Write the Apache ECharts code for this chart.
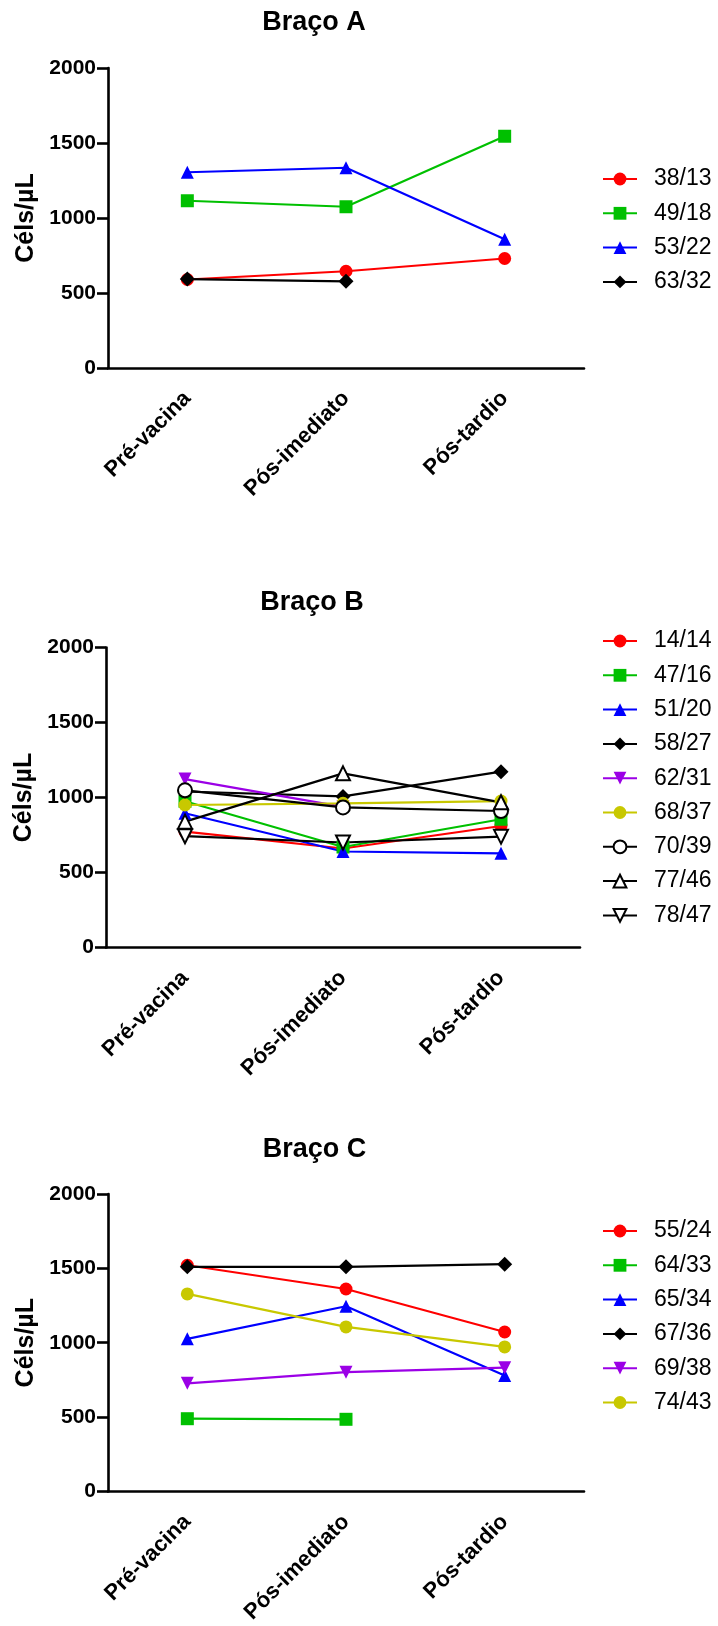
<!DOCTYPE html>
<html>
<head>
<meta charset="utf-8">
<script src="https://cdn.jsdelivr.net/npm/echarts@6/dist/echarts.min.js"></script>
<style>
html,body{margin:0;padding:0;background:#fff;}
#chart{width:718px;height:1626px;}
</style>
</head>
<body>
<div id="chart"></div>
<script>
// ---- data ----
const categories = ['Pré-vacina', 'Pós-imediato', 'Pós-tardio'];
const yMin = 0, yMax = 2000, yStep = 500;
const yAxisTitle = 'Céls/µL';
const panelTitles = ['Braço A', 'Braço B', 'Braço C'];

const armANames = ['38/13', '49/18', '53/22', '63/32'];
const armAValues = [
  [590, 645, 730],
  [1115, 1075, 1545],
  [1305, 1335, 858],
  [593, 578, null]
];

const armBNames = ['14/14', '47/16', '51/20', '58/27', '62/31', '68/37', '70/39', '77/46', '78/47'];
const armBValues = [
  [772, 660, 810],
  [975, 670, 855],
  [895, 640, 628],
  [1040, 1007, 1172],
  [1123, 938, null],
  [950, 961, 976],
  [1048, 934, 910],
  [839, 1161, 968],
  [742, 700, 739]
];

const armCNames = ['55/24', '64/33', '65/34', '67/36', '69/38', '74/43'];
const armCValues = [
  [1521, 1361, 1072],
  [489, 485, null],
  [1026, 1245, 780],
  [1510, 1510, 1528],
  [727, 802, 832],
  [1328, 1106, 972]
];

// ---- styles ----
const RED = '#ff0000', GREEN = '#00c000', BLUE = '#0000ff', BLACK = '#000000', PURPLE = '#9b00e6', YELLOW = '#c8c800';
const styleA = [
  {c: RED, s: 'circle'}, {c: GREEN, s: 'rect'}, {c: BLUE, s: 'triangle'}, {c: BLACK, s: 'diamond'}
];
const styleB = [
  {c: RED, s: 'circle'}, {c: GREEN, s: 'rect'}, {c: BLUE, s: 'triangle'}, {c: BLACK, s: 'diamond'},
  {c: PURPLE, s: 'triangle', r: 180}, {c: YELLOW, s: 'circle'}, {c: BLACK, s: 'emptyCircle'},
  {c: BLACK, s: 'emptyTriangle'}, {c: BLACK, s: 'emptyTriangle', r: 180}
];
const styleC = [
  {c: RED, s: 'circle'}, {c: GREEN, s: 'rect'}, {c: BLUE, s: 'triangle'}, {c: BLACK, s: 'diamond'},
  {c: PURPLE, s: 'triangle', r: 180}, {c: YELLOW, s: 'circle'}
];

const FONT = '"Liberation Sans", Arial, Helvetica, sans-serif';

const panels = [
  {names: armANames, values: armAValues, styles: styleA, grid: {left: 108, top: 68, width: 476, height: 300}, titleX: 314, titleTop: 9, legendTop: 167},
  {names: armBNames, values: armBValues, styles: styleB, grid: {left: 106, top: 647.5, width: 474, height: 300}, titleX: 312, titleTop: 589, legendTop: 629},
  {names: armCNames, values: armCValues, styles: styleC, grid: {left: 108, top: 1194, width: 476, height: 300}, titleX: 314.5, titleTop: 1136, legendTop: 1219}
];

const option = {
  backgroundColor: '#ffffff',
  animation: false,
  title: [], grid: [], xAxis: [], yAxis: [], legend: [], series: []
};

panels.forEach((p, i) => {
  option.title.push({
    text: panelTitles[i], left: p.titleX, top: p.titleTop, textAlign: 'center', padding: 0,
    textStyle: {fontFamily: FONT, fontSize: 27, fontWeight: 'bold', color: '#000'}
  });
  option.grid.push(Object.assign({containLabel: false}, p.grid));
  option.xAxis.push({
    type: 'category', gridIndex: i, data: categories, boundaryGap: true,
    axisLine: {lineStyle: {color: '#000', width: 2.6}},
    axisTick: {alignWithLabel: true, length: 10, lineStyle: {color: '#000', width: 2.6}},
    axisLabel: {rotate: 45, margin: 27, fontFamily: FONT, fontSize: 22, fontWeight: 'bold', color: '#000', interval: 0},
    splitLine: {show: false}
  });
  option.yAxis.push({
    type: 'value', gridIndex: i, min: yMin, max: yMax, interval: yStep,
    name: yAxisTitle, nameLocation: 'middle', nameGap: 68,
    nameTextStyle: {fontFamily: FONT, fontSize: 25, fontWeight: 'bold', color: '#000'},
    axisLine: {show: true, lineStyle: {color: '#000', width: 2.6}},
    axisTick: {show: true, length: 11, lineStyle: {color: '#000', width: 2.6}},
    axisLabel: {margin: 12, fontFamily: FONT, fontSize: 21, fontWeight: 'bold', color: '#000',
      formatter: v => String(v)},
    splitLine: {show: false}
  });
  option.legend.push({
    orient: 'vertical', left: 602, top: p.legendTop, padding: 0,
    itemWidth: 34, itemHeight: 16, itemGap: 10.3,
    data: p.names,
    textStyle: {fontFamily: FONT, fontSize: 23, lineHeight: 24, color: '#000', padding: [0, 0, 0, 12]}
  });
  p.names.forEach((n, k) => {
    const st = p.styles[k];
    const empty = st.s.indexOf('empty') === 0;
    option.series.push({
      type: 'line', name: n, xAxisIndex: i, yAxisIndex: i,
      data: p.values[k],
      symbol: st.s, symbolRotate: st.r || 0,
      symbolSize: empty ? 14 : (st.s === 'diamond' ? 15 : 13),
      showSymbol: true,
      lineStyle: {color: st.c, width: 2.2},
      itemStyle: {color: st.c, borderColor: st.c, borderWidth: empty ? 2.6 : 0},
      emphasis: {disabled: true}
    });
  });
});

const chart = echarts.init(document.getElementById('chart'), null, {renderer: 'canvas'});
chart.setOption(option);
</script>
</body>
</html>
